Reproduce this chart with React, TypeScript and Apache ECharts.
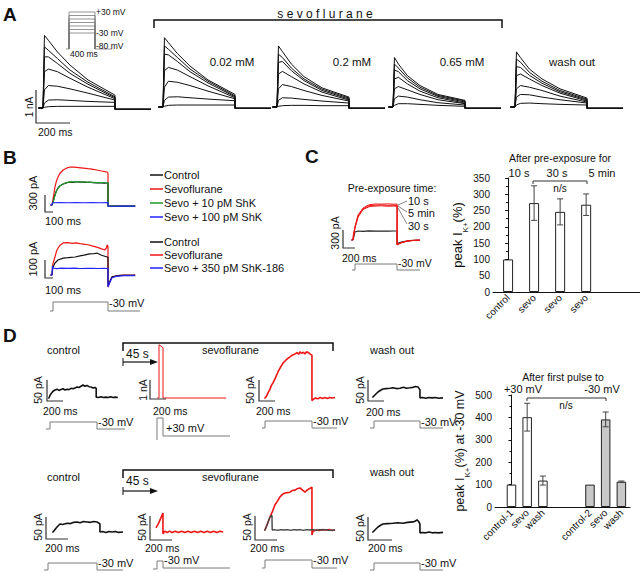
import { useEffect, useRef } from "react";
import * as echarts from "echarts";

const FONT = '"Liberation Sans", Arial, sans-serif';

// ---------------- Panel A: K+ current families (time ms, current nA) ----------------
const A_TIMES = [8, 30, 80, 150, 250, 400];
const A_TAIL = -0.04;
const A_CONTROL = [
  [2.2, 2.05, 1.7, 1.3, 0.85, 0.39],
  [1.85, 1.75, 1.5, 1.15, 0.78, 0.34],
  [1.55, 1.55, 1.35, 1.05, 0.72, 0.31],
  [1.1, 1.18, 1.1, 0.9, 0.63, 0.28],
  [0.55, 0.68, 0.66, 0.58, 0.45, 0.24],
  [0.15, 0.24, 0.25, 0.23, 0.2, 0.17],
  [0.02, 0.04, 0.05, 0.05, 0.05, 0.05],
];
const A_002 = [
  [2.1, 1.95, 1.62, 1.24, 0.82, 0.38],
  [1.85, 1.75, 1.5, 1.15, 0.78, 0.34],
  [1.6, 1.58, 1.38, 1.07, 0.73, 0.31],
  [1.1, 1.2, 1.12, 0.92, 0.64, 0.28],
  [0.6, 0.78, 0.75, 0.65, 0.48, 0.25],
  [0.2, 0.3, 0.31, 0.28, 0.24, 0.19],
  [0.02, 0.05, 0.06, 0.06, 0.06, 0.06],
];
const A_02 = [
  [1.85, 1.68, 1.3, 0.92, 0.58, 0.3],
  [1.6, 1.5, 1.18, 0.85, 0.54, 0.27],
  [1.35, 1.38, 1.1, 0.8, 0.5, 0.24],
  [1.0, 1.08, 0.92, 0.7, 0.45, 0.21],
  [0.55, 0.68, 0.62, 0.5, 0.35, 0.18],
  [0.2, 0.28, 0.27, 0.23, 0.18, 0.12],
  [0.02, 0.04, 0.05, 0.05, 0.04, 0.04],
];
const A_065 = [
  [1.5, 1.3, 0.95, 0.65, 0.38, 0.2],
  [1.3, 1.18, 0.88, 0.6, 0.35, 0.18],
  [1.12, 1.07, 0.8, 0.55, 0.32, 0.15],
  [0.85, 0.9, 0.7, 0.48, 0.28, 0.12],
  [0.55, 0.62, 0.52, 0.38, 0.22, 0.1],
  [0.25, 0.33, 0.3, 0.22, 0.13, 0.06],
  [0.05, 0.1, 0.1, 0.08, 0.05, 0.02],
];
const A_WASH = [
  [1.67, 1.5, 1.15, 0.85, 0.55, 0.27],
  [1.45, 1.36, 1.05, 0.78, 0.5, 0.24],
  [1.22, 1.2, 0.96, 0.72, 0.46, 0.21],
  [0.95, 1.0, 0.85, 0.65, 0.42, 0.18],
  [0.55, 0.65, 0.6, 0.5, 0.33, 0.15],
  [0.3, 0.38, 0.37, 0.3, 0.22, 0.12],
  [0.06, 0.11, 0.12, 0.1, 0.08, 0.06],
];
const A_PANELS = [A_CONTROL, A_002, A_02, A_065, A_WASH];
const A_LABELS = ["0.02 mM", "0.2 mM", "0.65 mM", "wash out"];

// ---------------- Panel B (time ms, current pA) ----------------
const B1_RED = [[-20,0],[0,0],[15,120],[37,317],[55,420],[75,494],[100,560],[140,617],[180,650],[225,670],[280,668],[330,660],[390,650],[450,640],[500,632],[560,617],[620,600],[660,590],[690,582],[700,560],[700,-20],[1040,-20]];
const B1_BLACK = [[-20,0],[0,0],[15,60],[37,176],[55,250],[75,300],[100,340],[140,370],[180,390],[225,405],[270,400],[310,410],[350,402],[390,405],[430,398],[470,404],[510,395],[560,390],[600,392],[650,386],[690,388],[700,388],[700,-20],[1040,-20]];
const B1_GREEN = [[0,0],[15,55],[37,170],[55,245],[75,295],[100,338],[140,372],[180,395],[225,410],[270,408],[310,412],[350,406],[390,410],[430,404],[470,400],[510,398],[560,394],[600,396],[650,392],[690,390],[700,390],[700,-20],[1040,-20]];
const B1_BLUE = [[-20,0],[0,0],[5,40],[100,42],[200,40],[300,41],[400,40],[500,41],[600,40],[700,41],[700,-20],[760,-22],[850,-18],[950,-20],[1040,-19]];
const B2_RED = [[-20,0],[0,0],[10,60],[37,100],[55,130],[75,150],[100,165],[140,178],[200,180],[250,176],[300,178],[350,174],[390,172],[450,168],[500,162],[560,155],[620,145],[660,139],[680,150],[690,167],[700,160],[700,-67],[720,-40],[750,-11],[800,-5],[900,0],[1000,-2],[1040,0]];
const B2_BLACK = [[-20,0],[0,0],[10,40],[37,67],[75,83],[140,94],[200,96],[290,100],[350,106],[400,110],[470,117],[520,118],[560,122],[620,110],[690,100],[700,100],[700,-60],[750,-10],[850,-2],[1040,0]];
const B2_BLUE = [[-20,0],[0,0],[5,50],[12,39],[60,35],[120,38],[200,37],[280,38],[350,36],[430,37],[500,37],[580,36],[650,37],[700,36],[700,-67],[720,-45],[750,-15],[800,-8],[900,-3],[1040,-3]];
const B1_LEGEND = ["Control", "Sevoflurane", "Sevo + 10 pM ShK", "Sevo + 100 pM ShK"];
const B2_LEGEND = ["Control", "Sevoflurane", "Sevo + 350 pM ShK-186"];

// ---------------- Panel C traces (ms, pA) ----------------
const C_RED_10S = [[-30,0],[0,0],[0,60],[30,217],[80,417],[160,533],[220,570],[270,590],[350,600],[450,598],[550,602],[650,596],[700,600],[700,-83],[760,-50],[850,-20],[950,-8],[1060,-3]];
const C_RED_5MIN = [[0,0],[30,200],[80,400],[160,520],[270,575],[350,580],[450,585],[550,578],[650,580],[700,575],[700,-80],[760,-48],[850,-22],[950,-6],[1060,-2]];
const C_RED_30S = [[0,0],[30,190],[80,380],[160,510],[270,560],[350,565],[450,570],[550,562],[650,566],[700,560],[700,-78],[760,-46],[850,-18],[950,-7],[1060,-4]];
const C_BLACK = [[-30,0],[0,0],[30,133],[80,150],[160,145],[250,152],[350,148],[450,150],[550,147],[650,150],[700,150],[700,-60],[780,-30],[900,-10],[1060,0]];

// ---------------- Panel C bars (% of control) ----------------
const C_CATS = ["control", "sevo", "sevo", "sevo"];
const C_MEAN = [100, 273, 246, 268];
const C_ERR = [0, 53, 40, 33];
const C_TIMES = ["10 s", "30 s", "5 min"];

// ---------------- Panel D traces (ms, pA) ----------------
const D1_CONTROL = [[-10,0],[0,0],[12,6],[25,10],[50,16],[75,19],[100,21],[125,18],[150,20],[175,22],[200,19],[225,21],[250,20],[275,23],[300,22],[325,24],[350,26],[375,25],[400,28],[425,31],[450,28],[475,30],[500,27],[525,26],[550,24],[575,25],[590,23],[590,2],[620,1],[650,3],[680,1],[710,2],[740,1],[770,3],[800,1],[830,2],[860,1]];
const D1_SPIKE = [[-20,0],[0,0],[0,2800],[50,2650],[50,0],[840,0]];
const D1_SEVO = [[-10,0],[0,0],[20,5],[37,12],[60,20],[80,30],[100,36],[130,48],[162,62],[190,72],[225,83],[260,90],[290,95],[312,98],[340,102],[375,105],[400,108],[420,104],[437,110],[460,106],[480,109],[500,105],[520,110],[550,107],[570,104],[587,102],[587,-6],[600,-4],[630,0],[660,-2],[690,1],[720,-1],[750,1],[780,-1],[810,1],[840,0],[875,1]];
const D1_WASH = [[-10,0],[0,0],[30,6],[62,12],[95,16],[125,19],[160,20],[212,21],[250,22],[290,20],[337,21],[380,23],[420,21],[462,22],[500,23],[530,25],[562,24],[587,17],[587,-2],[620,-1],[660,-3],[700,-1],[740,-2],[780,-1],[820,-3],[875,-2]];
const D2_CONTROL = [[-10,0],[0,0],[25,6],[50,12],[87,19],[120,18],[175,21],[220,20],[260,23],[300,24],[340,22],[380,25],[425,24],[470,23],[510,25],[550,24],[587,19],[587,0],[620,1],[660,-1],[700,1],[740,0],[780,1],[820,-1],[875,0]];
const D2_SPIKE = [[0,10],[30,20],[60,33],[87,45],[87,-4],[110,2],[140,-1],[170,2],[200,-1],[240,2],[280,-1],[320,2],[360,-1],[400,2],[440,-1],[480,2],[520,-1],[560,2],[600,-1],[640,2],[680,-1],[720,2],[760,-1],[800,2],[840,0]];
const D2_SEVO = [[-10,0],[0,0],[31,15],[62,31],[95,45],[125,60],[160,70],[187,79],[220,85],[250,88],[280,89],[312,90],[340,94],[375,95],[400,98],[437,100],[470,95],[500,90],[520,94],[550,98],[570,100],[587,102],[587,-12],[600,-3],[640,0],[680,-1],[720,1],[760,0],[800,1],[840,-1],[875,0]];
const D2_SEVO_CTRL = [[-10,0],[0,0],[31,15],[62,31],[87,35],[90,0],[120,1],[160,-1],[200,1],[240,0],[280,1],[320,-1],[360,1],[400,0],[440,1],[480,-1],[520,1],[560,0],[600,1],[640,-1],[680,1],[720,0],[760,1],[800,-1],[875,0]];
const D2_WASH = [[-10,0],[0,0],[30,6],[62,12],[95,16],[125,19],[180,20],[250,21],[310,22],[375,21],[430,23],[500,24],[530,26],[550,29],[570,25],[587,19],[587,-2],[620,-1],[660,-2],[700,0],[740,-2],[780,-1],[820,-2],[875,-1]];

// ---------------- Panel D bars ----------------
const D_CATS = ["control-1", "sevo", "wash", "control-2", "sevo", "wash"];
const D_MEAN = [100, 401, 118, 100, 391, 113];
const D_ERR = [0, 62, 20, 0, 33, 3];

// layout (pixel positions)
const A_X0 = [43, 163, 277, 393, 515];
const A_BASE = [108, 107, 107, 107, 107];
const A_LABEL_X = [232, 352, 462, 572];
const C_SLOT = [0, 1, 2, 3];
const D_SLOT = [0, 1, 2, 5, 6, 7];

const RED = "#ee1515";
const BLUE = "#2222ff";
const GREEN = "#1f9a2a";
const BLK = "#111111";
const GRAY = "#7a7a7a";

function buildOption() {
  const grids: any[] = [];
  const xAxes: any[] = [];
  const yAxes: any[] = [];
  const series: any[] = [];
  const g: any[] = [];

  const traceGrid = (x0: number, base: number, px: number, py: number, xMin: number, xMax: number, yMin: number, yMax: number) => {
    const idx = grids.length;
    grids.push({ left: x0 + xMin * px, top: base - yMax * py, width: (xMax - xMin) * px, height: (yMax - yMin) * py });
    xAxes.push({ type: "value", gridIndex: idx, min: xMin, max: xMax, show: false });
    yAxes.push({ type: "value", gridIndex: idx, min: yMin, max: yMax, show: false });
    return idx;
  };
  const line = (idx: number, data: any[], color: string, width = 1) => {
    series.push({
      type: "line", xAxisIndex: idx, yAxisIndex: idx, data, showSymbol: false, symbol: "none",
      lineStyle: { color, width }, silent: true, animation: false,
    });
  };
  const T = (text: string, x: number, y: number, o: any = {}) => {
    g.push({
      type: "text", x, y, rotation: o.rot || 0, silent: true, z: 20,
      style: {
        text, fill: o.color || BLK,
        font: `${o.weight || "normal"} ${o.size || 11}px ${FONT}`,
        textAlign: o.align || "left", textVerticalAlign: "middle",
      },
    });
  };
  const P = (points: number[][], color = "#222", width = 1) => {
    g.push({ type: "polyline", silent: true, z: 20, shape: { points }, style: { stroke: color, lineWidth: width, fill: null } });
  };

  // ===== Panel A =====
  T("A", 3, 14, { size: 19, weight: "bold" });
  A_PANELS.forEach((traces, p) => {
    const idx = traceGrid(A_X0[p], A_BASE[p], 0.18, 33, -25, 600, -0.2, 2.4);
    traces.forEach((vals) => {
      const data = [[-25, 0], [0, 0], ...A_TIMES.map((t, i) => [t, vals[i]]), [400, A_TAIL], [600, A_TAIL]];
      line(idx, data, BLK, 1);
    });
  });
  A_LABELS.forEach((l, i) => T(l, A_LABEL_X[i], 62, { size: 11.5, align: "center" }));
  T("s e v o f l u r a n e", 325, 14, { size: 12, align: "center" });
  P([[154, 28], [154, 20], [502, 20], [502, 28]], BLK, 1.5);
  // protocol inset
  [12, 15.5, 19, 22.5, 26, 29.5, 33].forEach((y) => P([[69, 49], [69, y], [95, y], [95, 49]], GRAY, 0.8));
  P([[66, 49], [69, 49]], GRAY, 0.8);
  P([[95, 49], [112, 49]], GRAY, 0.8);
  T("+30 mV", 96, 12, { size: 8.5 });
  T("-30 mV", 96, 33, { size: 8.5 });
  T("-80 mV", 96, 46, { size: 8.5 });
  T("400 ms", 70, 54, { size: 8.5 });
  P([[36, 90], [36, 123], [70, 123]], "#333", 1.2);
  T("1 nA", 29, 107, { size: 10, rot: Math.PI / 2, align: "center" });
  T("200 ms", 38, 132, { size: 10.5 });

  // ===== Panel B =====
  T("B", 3, 157, { size: 19, weight: "bold" });
  const b1 = traceGrid(52, 205, 0.08, 0.0567, -20, 1050, -100, 750);
  line(b1, B1_RED, RED, 1.2);
  line(b1, B1_BLACK, BLK, 1.2);
  line(b1, B1_GREEN, GREEN, 1.2);
  line(b1, B1_BLUE, BLUE, 1.2);
  const b2 = traceGrid(52, 275, 0.08, 0.18, -20, 1050, -100, 250);
  line(b2, B2_RED, RED, 1.2);
  line(b2, B2_BLACK, BLK, 1.2);
  line(b2, B2_BLUE, BLUE, 1.2);
  const b1c = [BLK, RED, GREEN, BLUE];
  B1_LEGEND.forEach((l, i) => {
    const y = 175 + i * 14;
    P([[150, y], [163, y]], b1c[i], 1.5);
    T(l, 164, y, { size: 11 });
  });
  const b2c = [BLK, RED, BLUE];
  B2_LEGEND.forEach((l, i) => {
    const y = 242 + i * 13;
    P([[150, y], [163, y]], b2c[i], 1.5);
    T(l, 164, y, { size: 11 });
  });
  P([[45, 195], [45, 212], [53, 212]], "#333", 1.2);
  T("300 pA", 33, 193, { size: 11, rot: Math.PI / 2, align: "center" });
  T("100 ms", 45, 221, { size: 11 });
  P([[45, 260], [45, 278], [53, 278]], "#333", 1.2);
  T("100 pA", 33, 259, { size: 11, rot: Math.PI / 2, align: "center" });
  T("100 ms", 45, 290, { size: 11 });
  P([[50, 311], [53, 311], [53, 302], [108, 302], [108, 311], [140, 311]], GRAY, 1);
  T("-30 mV", 109, 303, { size: 11 });

  // ===== Panel C traces =====
  T("C", 305, 156, { size: 19, weight: "bold" });
  const c1 = traceGrid(353, 240, 0.063, 0.06, -30, 1060, -150, 650);
  line(c1, C_BLACK, "#222", 1.2);
  line(c1, C_RED_30S, RED, 1);
  line(c1, C_RED_5MIN, RED, 1);
  line(c1, C_RED_10S, RED, 1);
  T("Pre-exposure time:", 392, 188, { size: 10.5, align: "center" });
  T("10 s", 408, 201, { size: 11 });
  T("5 min", 408, 213, { size: 11 });
  T("30 s", 408, 226, { size: 11 });
  P([[398, 205], [407, 201]], "#666", 0.8);
  P([[398, 206], [407, 212]], "#666", 0.8);
  P([[398, 208], [407, 224]], "#666", 0.8);
  P([[343, 230], [343, 248], [355, 248]], "#333", 1.2);
  T("300 pA", 335, 233, { size: 10.5, rot: Math.PI / 2, align: "center" });
  T("200 ms", 342, 258, { size: 10.5 });
  P([[352, 270], [355, 270], [355, 264], [397, 264], [397, 270], [420, 270]], GRAY, 1);
  T("-30 mV", 398, 263, { size: 10.5 });

  // ===== Panel C bars =====
  const catLabel = (names: string[], slots: number[]) => ({
    show: true, customValues: slots, interval: 0,
    formatter: (v: number) => {
      const i = slots.indexOf(Math.round(v));
      return i >= 0 ? `{c|${names[i]}}` : "";
    },
    rich: { c: { color: BLK, fontSize: 10, fontFamily: FONT } },
    rotate: 45, fontSize: 10, color: BLK, fontFamily: FONT, margin: 4,
  });
  const cb = grids.length;
  grids.push({ left: 493, top: 178, width: 147, height: 114 });
  xAxes.push({
    type: "value", gridIndex: cb, min: -0.58, max: 5.07,
    axisLine: { show: true, onZero: false, lineStyle: { color: BLK, width: 1 } },
    axisTick: { show: false }, splitLine: { show: false },
    axisLabel: catLabel(C_CATS, C_SLOT),
  });
  yAxes.push({
    type: "value", gridIndex: cb, min: 0, max: 350, interval: 50,
    axisLine: { show: true, lineStyle: { color: BLK, width: 1 } },
    axisTick: { show: true, length: 3, lineStyle: { color: BLK } },
    minorTick: { show: true, splitNumber: 2, length: 2, lineStyle: { color: BLK } },
    splitLine: { show: false },
    axisLabel: { fontSize: 10, color: BLK, fontFamily: FONT, margin: 3 },
    name: "{n|peak I}{s|K+}{n|(%)}", nameLocation: "middle", nameRotate: 90, nameGap: 20,
    nameTextStyle: {
      rich: {
        n: { fontSize: 13, fontFamily: FONT, color: BLK, lineHeight: 18, verticalAlign: "top" },
        s: { fontSize: 8, fontFamily: FONT, color: BLK, lineHeight: 8, verticalAlign: "bottom" },
      },
    },
  });
  series.push({
    type: "bar", xAxisIndex: cb, yAxisIndex: cb, barWidth: 10, animation: false, silent: true,
    data: C_MEAN.map((v, i) => [C_SLOT[i], v]),
    itemStyle: { color: "#ffffff", borderColor: "#222", borderWidth: 1 },
  });
  const errSeries = (gi: number, slots: number[], mean: number[], err: number[]) => ({
    type: "custom", xAxisIndex: gi, yAxisIndex: gi, animation: false, silent: true, z: 5,
    encode: { x: 0, y: [1, 2] },
    data: mean.map((v, i) => [slots[i], v - err[i], v + err[i]]).filter((_, i) => err[i] > 0),
    renderItem: (_p: any, api: any) => {
      const x = api.value(0);
      const a = api.coord([x, api.value(2)]);
      const b = api.coord([x, api.value(1)]);
      const st = { stroke: "#444", lineWidth: 1 };
      const w = 3;
      return {
        type: "group",
        children: [
          { type: "line", shape: { x1: a[0], y1: a[1], x2: b[0], y2: b[1] }, style: st },
          { type: "line", shape: { x1: a[0] - w, y1: a[1], x2: a[0] + w, y2: a[1] }, style: st },
          { type: "line", shape: { x1: b[0] - w, y1: b[1], x2: b[0] + w, y2: b[1] }, style: st },
        ],
      };
    },
  });
  series.push(errSeries(cb, C_SLOT, C_MEAN, C_ERR));
  T("After pre-exposure for", 560, 158, { size: 10.5, align: "center" });
  T(C_TIMES[0], 519, 173, { size: 11, align: "center" });
  T(C_TIMES[1], 557, 173, { size: 11, align: "center" });
  T(C_TIMES[2], 602, 173, { size: 11, align: "center" });
  P([[533, 184], [533, 181], [587, 181], [587, 184]], "#333", 1);
  T("n/s", 560, 188, { size: 10, align: "center" });

  // ===== Panel D =====
  T("D", 3, 335, { size: 19, weight: "bold" });
  const dGrid = (x0: number, base: number) => traceGrid(x0, base, 0.08, 0.42, -50, 900, -40, 130);
  // row 1
  line(dGrid(49, 398), D1_CONTROL, BLK, 1.6);
  line(traceGrid(159, 398, 0.08, 0.019, -50, 900, -200, 3000), D1_SPIKE, RED, 1);
  line(dGrid(265, 398), D1_SEVO, RED, 1.6);
  line(dGrid(373, 397), D1_WASH, BLK, 1.6);
  // row 2
  line(dGrid(53, 532), D2_CONTROL, BLK, 1.6);
  line(dGrid(156, 532), D2_SPIKE, RED, 1.6);
  const d2s = dGrid(265, 530);
  line(d2s, D2_SEVO, RED, 1.6);
  line(d2s, D2_SEVO_CTRL, "#444", 1.4);
  line(dGrid(373, 532), D2_WASH, BLK, 1.6);

  [[350, 343, 354, 362], [477, 470, 481, 491]].forEach(([ty, by, sy, ay], r) => {
    T("control", 47, ty, { size: 11 });
    T("sevoflurane", 202, ty, { size: 11 });
    T("wash out", 370, r === 0 ? 350 : 472, { size: 11 });
    P([[123, by + 8], [123, by], [333, by], [333, by + 8]], BLK, 1.5);
    T("45 s", 126, sy, { size: 12 });
    P([[123, ay - 4], [123, ay + 4]], BLK, 1);
    P([[123, ay], [152, ay]], BLK, 1.2);
    g.push({ type: "polygon", silent: true, z: 20, shape: { points: [[150, ay - 3], [158, ay], [150, ay + 3]] }, style: { fill: BLK } });
  });
  // row 1 scale bars and protocols
  P([[47, 380], [47, 401], [63, 401]], "#333", 1.2);
  T("50 pA", 38, 390, { size: 10.5, rot: Math.PI / 2, align: "center" });
  T("200 ms", 43, 411, { size: 10.5 });
  P([[150, 380], [150, 399], [166, 399]], "#333", 1.2);
  T("1 nA", 143, 390, { size: 10.5, rot: Math.PI / 2, align: "center" });
  T("200 ms", 153, 411, { size: 10.5 });
  P([[259, 380], [259, 401], [275, 401]], "#333", 1.2);
  T("50 pA", 250, 390, { size: 10.5, rot: Math.PI / 2, align: "center" });
  T("200 ms", 256, 411, { size: 10.5 });
  P([[368, 380], [368, 401], [384, 401]], "#333", 1.2);
  T("50 pA", 360, 390, { size: 10.5, rot: Math.PI / 2, align: "center" });
  T("200 ms", 366, 412, { size: 10.5 });
  P([[46, 429], [50, 429], [50, 422], [97, 422], [97, 429], [125, 429]], GRAY, 1);
  T("-30 mV", 98, 422, { size: 11 });
  P([[157, 440], [157, 418], [163, 418], [163, 436], [230, 436]], GRAY, 1);
  T("+30 mV", 166, 428, { size: 11 });
  P([[262, 428], [265, 428], [265, 421], [312, 421], [312, 428], [337, 428]], GRAY, 1);
  T("-30 mV", 313, 421, { size: 11 });
  P([[370, 428], [374, 428], [374, 421], [420, 421], [420, 428], [443, 428]], GRAY, 1);
  T("-30 mV", 421, 422, { size: 11 });
  // row 2
  P([[46, 517], [46, 539], [68, 539]], "#333", 1.2);
  T("50 pA", 38, 527, { size: 10.5, rot: Math.PI / 2, align: "center" });
  T("200 ms", 45, 548, { size: 10.5 });
  P([[150, 516], [150, 540], [172, 540]], "#333", 1.2);
  T("50 pA", 142, 527, { size: 10.5, rot: Math.PI / 2, align: "center" });
  T("200 ms", 145, 548, { size: 10.5 });
  P([[255, 516], [255, 540], [277, 540]], "#333", 1.2);
  T("50 pA", 247, 527, { size: 10.5, rot: Math.PI / 2, align: "center" });
  T("200 ms", 250, 548, { size: 10.5 });
  P([[368, 517], [368, 540], [392, 540]], "#333", 1.2);
  T("50 pA", 360, 528, { size: 10.5, rot: Math.PI / 2, align: "center" });
  T("200 ms", 368, 548, { size: 10.5 });
  P([[44, 570], [48, 570], [48, 563], [97, 563], [97, 570], [123, 570]], GRAY, 1);
  T("-30 mV", 98, 563, { size: 11 });
  P([[153, 569], [157, 569], [157, 561], [163, 561], [163, 568], [230, 568]], GRAY, 1);
  T("-30 mV", 164, 560, { size: 11 });
  P([[262, 568], [265, 568], [265, 560], [312, 560], [312, 568], [337, 568]], GRAY, 1);
  T("-30 mV", 313, 560, { size: 11 });
  P([[370, 570], [374, 570], [374, 563], [420, 563], [420, 570], [443, 570]], GRAY, 1);
  T("-30 mV", 421, 563, { size: 11 });

  // ===== Panel D bars =====
  const db = grids.length;
  grids.push({ left: 495, top: 395, width: 135, height: 112 });
  xAxes.push({
    type: "value", gridIndex: db, min: -1.05, max: 7.55,
    axisLine: { show: true, onZero: false, lineStyle: { color: BLK, width: 1 } },
    axisTick: { show: false }, splitLine: { show: false },
    axisLabel: catLabel(D_CATS, D_SLOT),
  });
  yAxes.push({
    type: "value", gridIndex: db, min: 0, max: 500, interval: 100,
    axisLine: { show: true, lineStyle: { color: BLK, width: 1 } },
    axisTick: { show: true, length: 3, lineStyle: { color: BLK } },
    minorTick: { show: true, splitNumber: 2, length: 2, lineStyle: { color: BLK } },
    splitLine: { show: false },
    axisLabel: { fontSize: 10, color: BLK, fontFamily: FONT, margin: 3 },
    name: "{n|peak I}{s|K+}{n|(%) at -30 mV}", nameLocation: "middle", nameRotate: 90, nameGap: 20,
    nameTextStyle: {
      rich: {
        n: { fontSize: 12.5, fontFamily: FONT, color: BLK, lineHeight: 18, verticalAlign: "top" },
        s: { fontSize: 8, fontFamily: FONT, color: BLK, lineHeight: 8, verticalAlign: "bottom" },
      },
    },
  });
  series.push({
    type: "bar", xAxisIndex: db, yAxisIndex: db, barWidth: 9.5, animation: false, silent: true,
    data: D_MEAN.map((v, i) => ({
      value: [D_SLOT[i], v],
      itemStyle: { color: i < 3 ? "#ffffff" : "#c8c8c8", borderColor: "#222", borderWidth: 1 },
    })),
  });
  series.push(errSeries(db, D_SLOT, D_MEAN, D_ERR));
  T("After first pulse to", 563, 377, { size: 10.5, align: "center" });
  T("+30 mV", 523, 389, { size: 11, align: "center" });
  T("-30 mV", 602, 389, { size: 11, align: "center" });
  P([[527, 401], [527, 398], [606, 398], [606, 401]], "#333", 1);
  T("n/s", 566, 405, { size: 10, align: "center" });

  return {
    animation: false,
    backgroundColor: "#ffffff",
    textStyle: { fontFamily: FONT },
    grid: grids,
    xAxis: xAxes,
    yAxis: yAxes,
    series,
    graphic: g,
  };
}

export default function App() {
  const ref = useRef<HTMLDivElement>(null);
  useEffect(() => {
    if (!ref.current) return;
    const chart = echarts.init(ref.current, undefined, { renderer: "svg" });
    chart.setOption(buildOption() as any);
    return () => chart.dispose();
  }, []);
  return (
    <div
      ref={ref}
      style={{ position: "absolute", left: 0, top: 0, width: 640, height: 573, background: "#fff" }}
    />
  );
}
